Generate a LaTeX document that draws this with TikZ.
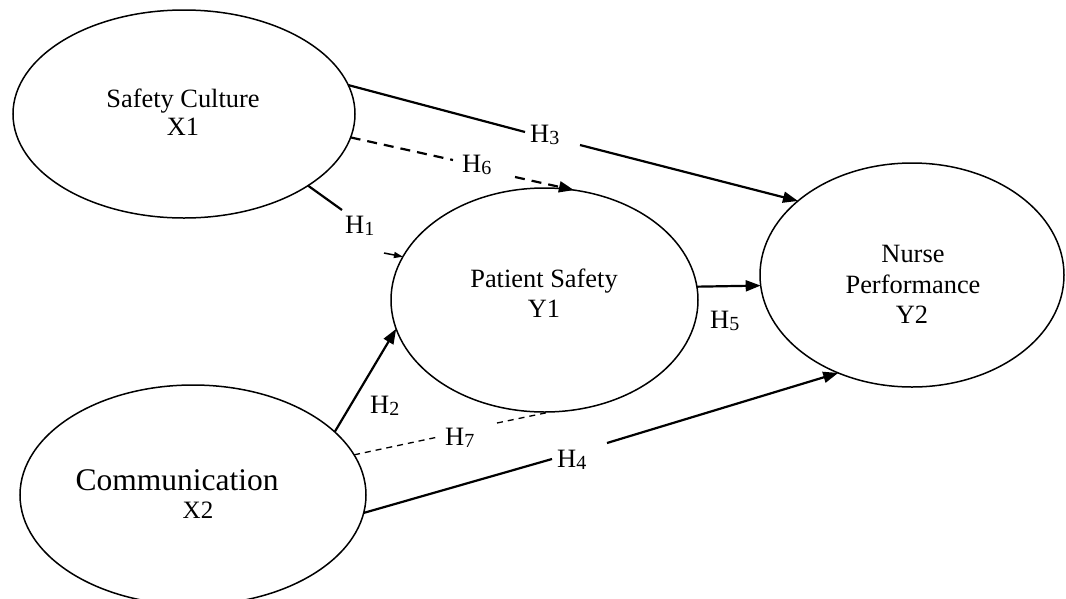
\documentclass[tikz,border=0pt]{standalone}
\usepackage{fontspec}
\setmainfont{Liberation Serif}
\usetikzlibrary{arrows.meta,shapes.geometric}
\newcommand{\Hlab}[1]{H\raisebox{-2pt}{\fontsize{20}{20}\selectfont #1}}
\begin{document}
\begin{tikzpicture}[x=1pt,y=-1pt,
  latent/.style={draw,ellipse,line width=1.5pt,inner sep=0pt,outer sep=0pt},
  txt/.style={anchor=base,inner sep=0pt,font=\fontsize{26.4}{30}\selectfont},
  hlab/.style={anchor=base west,inner sep=0pt,font=\fontsize{26.5}{30}\selectfont},
  solidline/.style={line width=2.2pt},
  thickdash/.style={line width=2.2pt,dash pattern=on 10pt off 7pt},
  thindash/.style={line width=1.3pt,dash pattern=on 6pt off 5pt},
  head/.style={-{Triangle[length=15pt,width=11pt]}}
]
\useasboundingbox (0,0) rectangle (1066,598);
% ellipses
\node[latent,minimum width=342pt,minimum height=208pt] (sc) at (184,114) {};
\node[latent,minimum width=307pt,minimum height=224pt] (ps) at (544.5,300) {};
\node[latent,minimum width=304pt,minimum height=224pt] (np) at (912,275) {};
\node[latent,minimum width=346pt,minimum height=220pt] (cm) at (193,495) {};
% texts
\node[txt] (sct) at (183,107) {Safety Culture};
\node[txt] (scx) at (183,135) {X1};
\node[txt] (pst) at (544,287) {Patient Safety};
\node[txt] (psy) at (544,317) {Y1};
\node[txt] (npt1) at (913,262) {Nurse};
\node[txt] (npt2) at (913,293) {Performance};
\node[txt] (npy) at (912,323) {Y2};
\node[txt,font=\fontsize{31.5}{34}\selectfont] (cmt) at (177,490) {Communication};
\node[txt,font=\fontsize{25}{30}\selectfont] (cmx) at (198,518) {X2};
% labels
\node[hlab] (h3) at (530,142) {\Hlab{3}};
\node[hlab] (h6) at (462,172) {\Hlab{6}};
\node[hlab] (h1) at (345,233) {\Hlab{1}};
\node[hlab] (h2) at (370,413) {\Hlab{2}};
\node[hlab] (h7) at (445,445) {\Hlab{7}};
\node[hlab] (h4) at (557,467) {\Hlab{4}};
\node[hlab] (h5) at (710,328) {\Hlab{5}};
% break points
\coordinate (h3a) at (525,132);
\coordinate (h3b) at (580,145);
\coordinate (h6a) at (453,160);
\coordinate (h6b) at (515,177);
\coordinate (h1a) at (342,210);
\coordinate (h1b) at (384,253);
\coordinate (h7a) at (438,437);
\coordinate (h7b) at (497,423);
\coordinate (h4a) at (552,459);
\coordinate (h4b) at (607,443);
% connectors
\draw[solidline] (sc.10) -- (h3a);
\draw[solidline,head] (h3b) -- (np.147);
\draw[thickdash] (sc.-8) -- (h6a);
\draw[thickdash,head] (h6b) -- (ps.75.5);
\draw[solidline] (sc.-30) -- (h1a);
\draw[line width=1.5pt,-{Triangle[length=9pt,width=6pt]}] (h1b) -- (ps.163);
\draw[solidline,head] (cm.24) -- (ps.191.7);
\draw[thindash] (cm.14) -- (h7a);
\draw[thindash] (h7b) -- (ps.273);
\draw[solidline] (cm.-6) -- (h4a);
\draw[solidline,head] (h4b) -- (np.233.7);
\draw[solidline,head] (ps.5.2) -- (np.184);
\end{tikzpicture}
\end{document}
